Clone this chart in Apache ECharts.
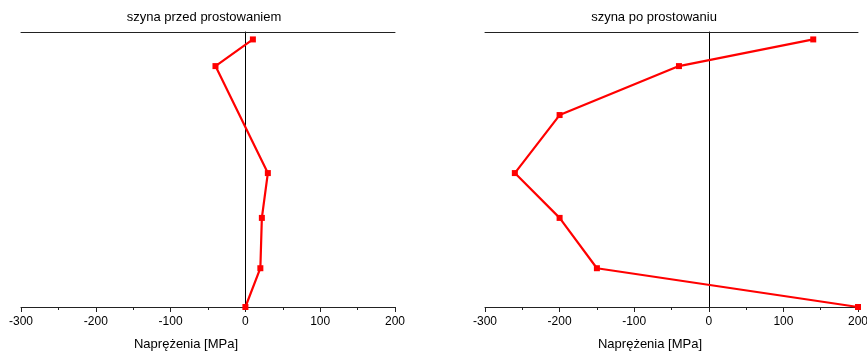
<!DOCTYPE html>
<html>
<head>
<meta charset="utf-8">
<script src="https://cdn.jsdelivr.net/npm/echarts@6/dist/echarts.min.js"></script>
<style>
html,body{margin:0;padding:0;background:#fff;}
#c{width:867px;height:351px;}
</style>
</head>
<body>
<div id="c"></div>
<script>
// Data
var titles = ['szyna przed prostowaniem', 'szyna po prostowaniu'];
var axisTitle = 'Naprężenia [MPa]';
var xTicks = [-300, -200, -100, 0, 100, 200];
var depthBefore = [97.3, 87.6, 48.7, 32.4, 14.1, 0];
var stressBefore = [10, -40, 30, 22, 20, 0];
var depthAfter = [97.3, 87.6, 69.8, 48.7, 32.4, 14.1, 0];
var stressAfter = [140, -40, -200, -260, -200, -150, 200];

var FONT = '"Liberation Sans", Arial, sans-serif';
var chart = echarts.init(document.getElementById('c'), null, {renderer: 'canvas'});

function bottomAxis(gi) {
  return {
    type: 'value', gridIndex: gi, position: 'bottom',
    min: xTicks[0], max: xTicks[xTicks.length - 1], interval: 100,
    axisLine: {show: true, onZero: false, lineStyle: {color: '#222', width: 1}},
    axisTick: {show: true, length: 5, lineStyle: {color: '#222'}},
    minorTick: {show: true, splitNumber: 2, length: 3, lineStyle: {color: '#222'}},
    splitLine: {show: false},
    axisLabel: {color: '#000', fontFamily: FONT, fontSize: 12, margin: 9}
  };
}
function topAxis(gi) {
  return {
    type: 'value', gridIndex: gi, position: 'top',
    min: xTicks[0], max: xTicks[xTicks.length - 1],
    axisLine: {show: true, onZero: false, lineStyle: {color: '#222', width: 1}},
    axisTick: {show: false}, axisLabel: {show: false}, splitLine: {show: false}
  };
}
function yAx(gi) {
  return {
    type: 'value', gridIndex: gi, min: 0, max: 100,
    axisLine: {show: true, onZero: true, onZeroAxisIndex: gi * 2, lineStyle: {color: '#000', width: 1}},
    axisTick: {show: false}, axisLabel: {show: false}, splitLine: {show: false}
  };
}
function pairs(xs, ys) { return xs.map(function (v, i) { return [v, ys[i]]; }); }
function ser(gi, data) {
  return {
    type: 'line', xAxisIndex: gi * 2, yAxisIndex: gi, data: data,
    symbol: 'rect', symbolSize: 6, clip: false,
    lineStyle: {color: '#ff0000', width: 2.2},
    itemStyle: {color: '#ff0000'}, animation: false
  };
}
function txt(x, y, s, size) {
  return {type: 'text', x: x, y: y,
    style: {text: s, fill: '#000', font: size + 'px ' + FONT, textAlign: 'center', textVerticalAlign: 'middle'}};
}

chart.setOption({
  animation: false,
  grid: [
    {left: 21, right: 472, top: 32, bottom: 44, containLabel: false, outerBoundsMode: 'none'},
    {left: 485, right: 9, top: 32, bottom: 44, containLabel: false, outerBoundsMode: 'none'}
  ],
  xAxis: [bottomAxis(0), topAxis(0), bottomAxis(1), topAxis(1)],
  yAxis: [yAx(0), yAx(1)],
  series: [ser(0, pairs(stressBefore, depthBefore)), ser(1, pairs(stressAfter, depthAfter))],
  graphic: [
    txt(204, 17, titles[0], 13),
    txt(654, 17, titles[1], 13),
    txt(186, 344, axisTitle, 13),
    txt(650, 344, axisTitle, 13)
  ]
});
</script>
</body>
</html>
